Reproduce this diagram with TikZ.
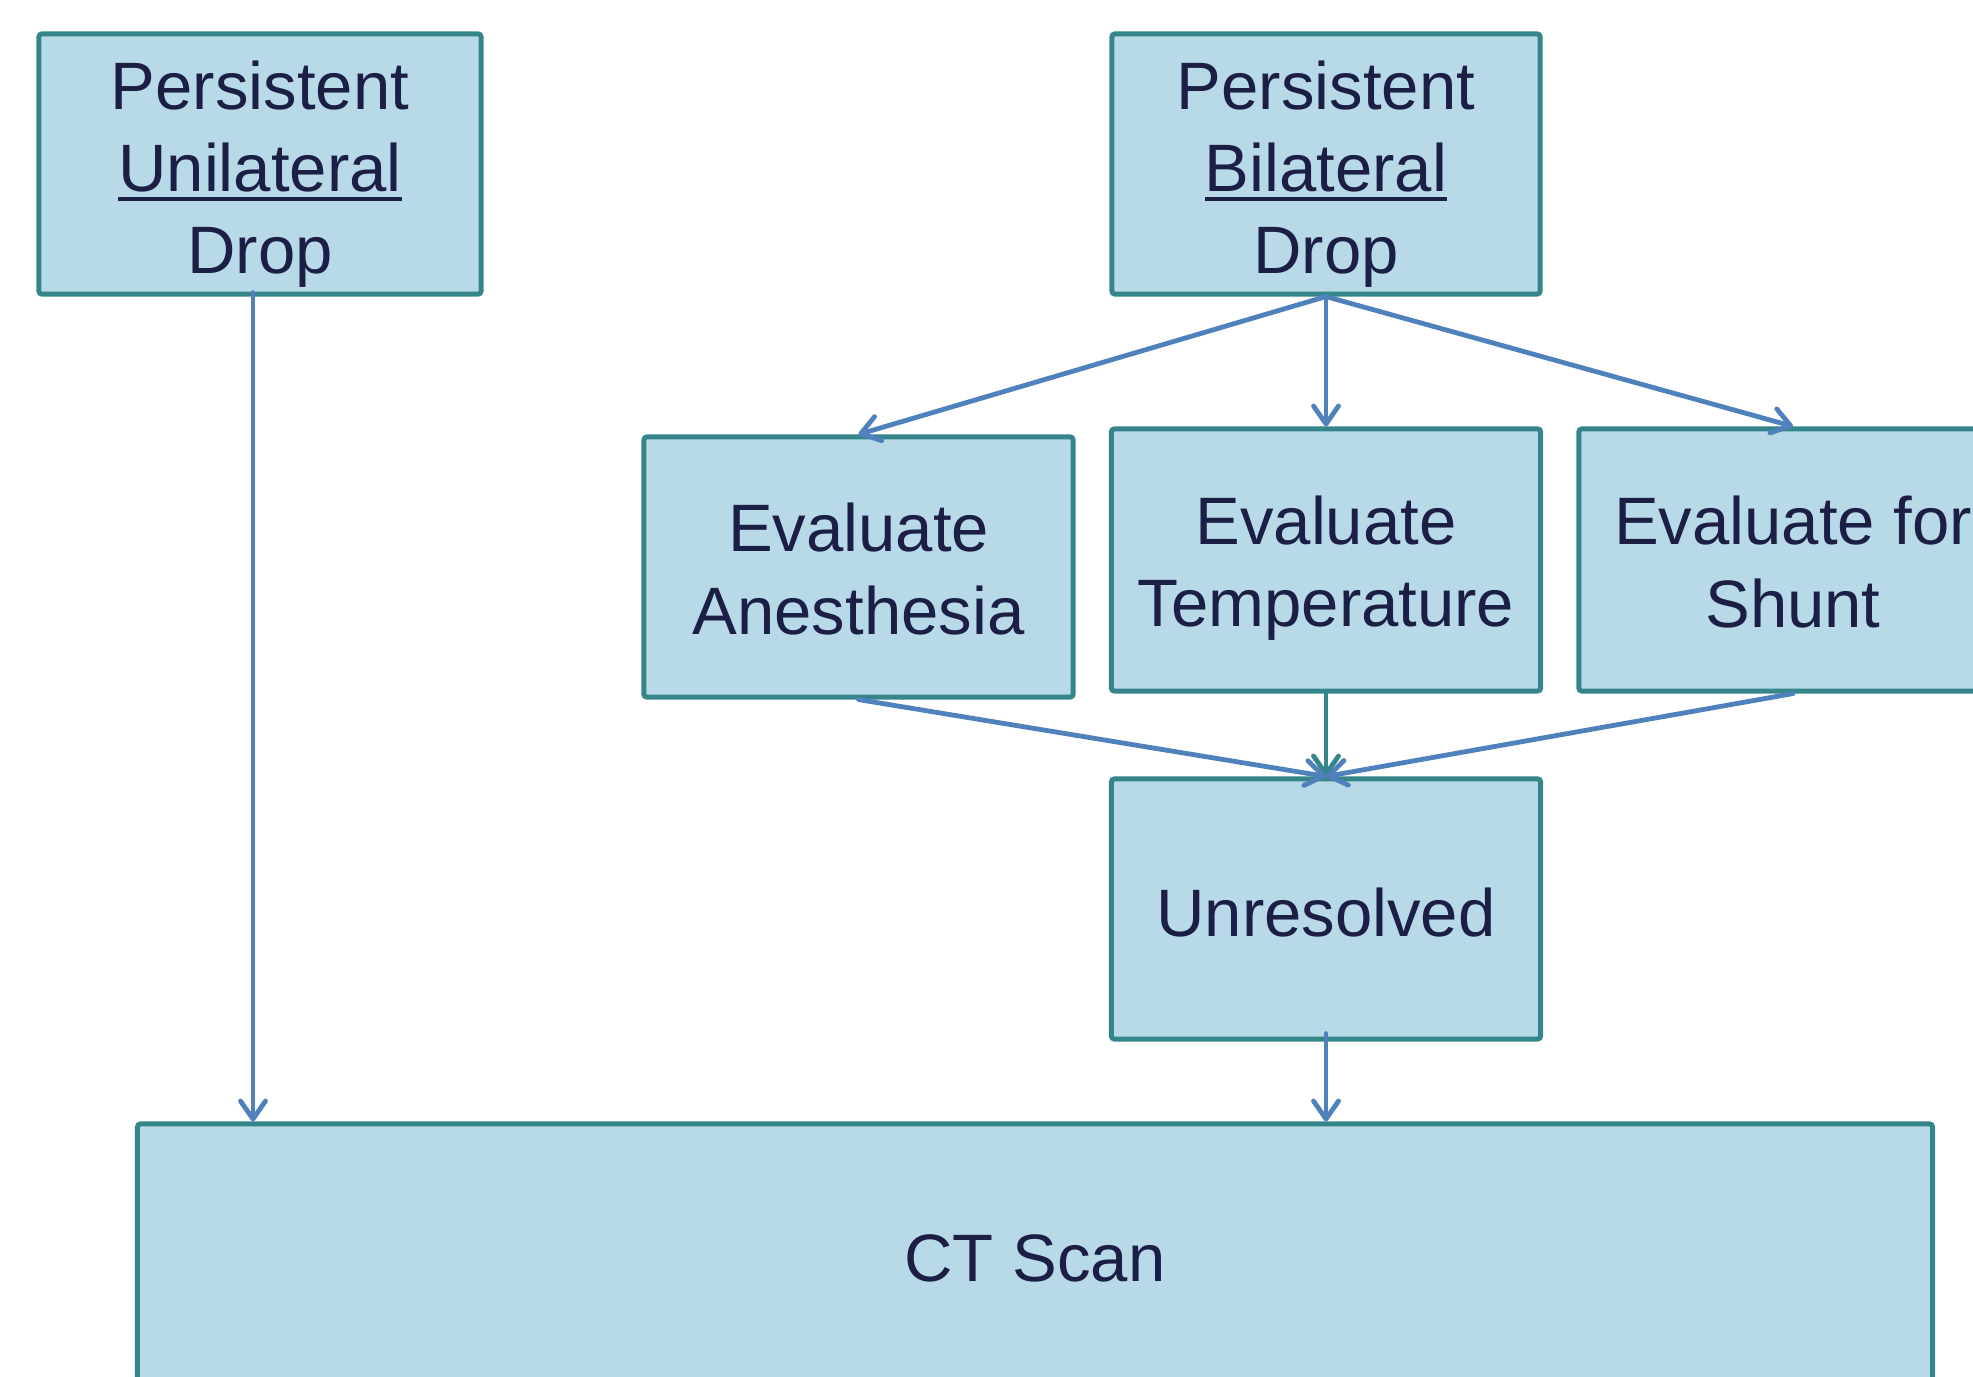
\documentclass[tikz,border=0pt]{standalone}
\usepackage{fontspec}
\setmainfont{Liberation Sans}
\usetikzlibrary{arrows.meta}
\definecolor{boxline}{HTML}{35868A}
\definecolor{boxfill}{HTML}{B8D9E8}
\definecolor{txt}{HTML}{1B1F45}
\definecolor{arrblue}{HTML}{4F81BD}
\newcommand\myul[1]{\setbox0\hbox{#1}\rlap{\rule[-0.15em]{\wd0}{0.06em}}\box0}
\begin{document}
\begin{tikzpicture}[x=0.01cm,y=-0.01cm,
  box/.style={draw=boxline, fill=boxfill, line width=0.05cm, rounded corners=0.03cm,
    inner sep=0pt},
  lbl/.style={text=txt, align=center, inner sep=0pt,
    font=\fontsize{19.07}{23.34}\selectfont},
  arr/.style={draw=arrblue, line width=0.048cm, line cap=round,
    -{Straight Barb[length=0.18cm,width=0.25cm,round]}},
  arrteal/.style={arr, draw=boxline}]
\useasboundingbox (0,0) rectangle (1973,1377);
\node[box, minimum width=4.42cm, minimum height=2.6cm] (b1) at (260,164) {};
\node[box, minimum width=4.28cm, minimum height=2.6cm] (b2) at (1326,164) {};
\node[box, minimum width=4.29cm, minimum height=2.6cm] (ea) at (858.5,567) {};
\node[box, minimum width=4.29cm, minimum height=2.62cm] (et) at (1326,560) {};
\node[box, minimum width=4.28cm, minimum height=2.62cm] (es) at (1793,560) {};
\node[box, minimum width=4.29cm, minimum height=2.6cm] (un) at (1326,909) {};
\node[box, minimum width=17.94cm, minimum height=2.68cm] (ct) at (1035,1258) {};
\node[lbl] (b1t) at ([yshift=-0.10cm]b1.center) {Persistent\\\myul{Unilateral}\\Drop};
\node[lbl] (b2t) at ([yshift=-0.10cm]b2.center) {Persistent\\\myul{Bilateral}\\Drop};
\node[lbl] (eat) at ([yshift=-0.02cm]ea.center) {Evaluate\\Anesthesia};
\node[lbl] (ett) at ([yshift=-0.08cm]et.center) {Evaluate\\Temperature};
\node[lbl] (est) at ([yshift=-0.02cm]es.center) {Evaluate for\\Shunt};
\node[lbl] (unt) at ([yshift=-0.04cm]un.center) {Unresolved};
\node[lbl] (ctt) at (ct.center) {CT Scan};
\coordinate (c1) at ([xshift=-0.07cm,yshift=0.04cm]b1.south);
\draw[arr] (c1) -- (c1 |- ct.north);
\draw[arr] (b2.south) -- (ea.north);
\draw[arr] (b2.south) -- (et.north);
\draw[arr] (b2.south) -- (es.north);
\draw[arrteal] (et.south) -- (un.north);
\draw[arr] (ea.south) -- (un.north);
\draw[arr] (es.south) -- (un.north);
\coordinate (c2) at ([yshift=0.08cm]un.south);
\draw[arr] (c2) -- (c2 |- ct.north);
\end{tikzpicture}
\end{document}
